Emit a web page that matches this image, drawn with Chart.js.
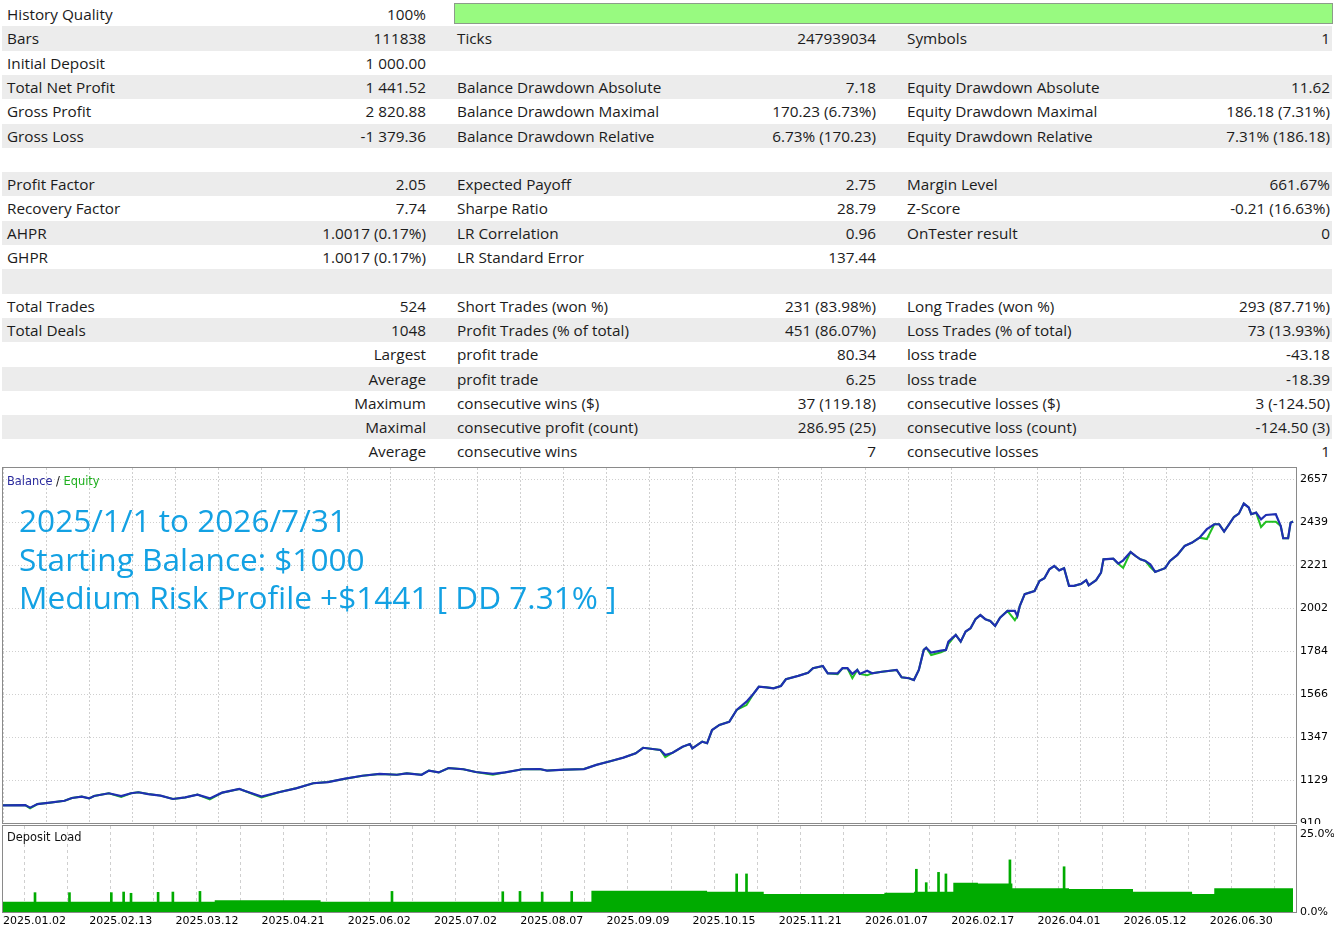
<!DOCTYPE html>
<html>
<head>
<meta charset="utf-8">
<title>Strategy Tester Report</title>
<script src="https://cdn.jsdelivr.net/npm/chart.js@4.4.1/dist/chart.umd.min.js"></script>
<style>
  body { margin: 0; width: 1334px; height: 934px; overflow: hidden; background: #fff; position: relative; }
  #report { position: absolute; left: 0; top: 0; width: 1334px; font-family: 'Open Sans', sans-serif; font-size: 15.3px; color: #1b1b1b; }
  .row { position: absolute; left: 2px; width: 1330px; height: 24.3px; line-height: 24.3px; }
  .row.alt { background: #ececec; }
  .row span { position: absolute; top: 0; white-space: nowrap; }
  .quality { position: absolute; left: 452px; top: 1px; width: 877px; height: 19px; background: #98fa80; border: 1px solid #8c9c8a; }
  canvas { position: absolute; left: 0; }
  #balanceCanvas { top: 467px; }
  #loadCanvas { top: 825px; }
  .legend { position: absolute; font-family: 'DejaVu Sans', sans-serif; font-size: 11.4px; color: #111; white-space: nowrap; }
  #title { position: absolute; left: 19px; top: 501px; font-family: 'Open Sans', sans-serif; font-size: 31.6px; line-height: 38.5px; color: #13a1e3; white-space: nowrap; }
</style>
</head>
<body>
<div id="report"></div>
<canvas id="balanceCanvas" width="1334" height="357"></canvas>
<canvas id="loadCanvas" width="1334" height="109"></canvas>
<div class="legend" style="left:7px;top:474px"><span style="color:#2b2b9e">Balance</span> / <span style="color:#1fb01f">Equity</span></div>
<div id="title">2025/1/1 to 2026/7/31<br>Starting Balance: $1000<br>Medium Risk Profile +$1441 [ DD 7.31% ]</div>
<div class="legend" style="left:7px;top:830px">Deposit Load</div>
<script>
// report table: label, value, label, value, label, value
const reportRows = [
  ['History Quality', '100%', '', '', '', ''],
  ['Bars', '111838', 'Ticks', '247939034', 'Symbols', '1'],
  ['Initial Deposit', '1 000.00', '', '', '', ''],
  ['Total Net Profit', '1 441.52', 'Balance Drawdown Absolute', '7.18', 'Equity Drawdown Absolute', '11.62'],
  ['Gross Profit', '2 820.88', 'Balance Drawdown Maximal', '170.23 (6.73%)', 'Equity Drawdown Maximal', '186.18 (7.31%)'],
  ['Gross Loss', '-1 379.36', 'Balance Drawdown Relative', '6.73% (170.23)', 'Equity Drawdown Relative', '7.31% (186.18)'],
  ['', '', '', '', '', ''],
  ['Profit Factor', '2.05', 'Expected Payoff', '2.75', 'Margin Level', '661.67%'],
  ['Recovery Factor', '7.74', 'Sharpe Ratio', '28.79', 'Z-Score', '-0.21 (16.63%)'],
  ['AHPR', '1.0017 (0.17%)', 'LR Correlation', '0.96', 'OnTester result', '0'],
  ['GHPR', '1.0017 (0.17%)', 'LR Standard Error', '137.44', '', ''],
  ['', '', '', '', '', ''],
  ['Total Trades', '524', 'Short Trades (won %)', '231 (83.98%)', 'Long Trades (won %)', '293 (87.71%)'],
  ['Total Deals', '1048', 'Profit Trades (% of total)', '451 (86.07%)', 'Loss Trades (% of total)', '73 (13.93%)'],
  ['', 'Largest', 'profit trade', '80.34', 'loss trade', '-43.18'],
  ['', 'Average', 'profit trade', '6.25', 'loss trade', '-18.39'],
  ['', 'Maximum', 'consecutive wins ($)', '37 (119.18)', 'consecutive losses ($)', '3 (-124.50)'],
  ['', 'Maximal', 'consecutive profit (count)', '286.95 (25)', 'consecutive loss (count)', '-124.50 (3)'],
  ['', 'Average', 'consecutive wins', '7', 'consecutive losses', '1']
]

// balance / equity, by trade number
const balanceTrade = [0, 9, 11, 14, 19, 25, 28, 32, 35, 37, 43, 48, 52, 55, 59, 64, 69, 74, 79, 84,
  89, 96, 98, 105, 112, 119, 126, 132, 139, 146, 153, 160, 164, 170, 173, 177, 181, 187, 192, 199,
  204, 211, 218, 221, 228, 236, 241, 247, 252, 257, 260, 267, 269, 272, 276, 279, 280, 284, 286, 288,
  291, 295, 298, 302, 305, 307, 310, 313, 316, 318, 323, 327, 329, 333, 335, 339, 341, 343, 345, 347,
  348, 351, 353, 357, 363, 365, 368, 370, 372, 374, 375, 377, 381, 383, 384, 387, 389, 391, 393, 395,
  397, 399, 401, 403, 405, 408, 411, 412, 413, 415, 419, 421, 423, 425, 427, 429, 431, 433, 435, 438,
  440, 441, 444, 446, 447, 451, 453, 455, 458, 460, 462, 464, 466, 468, 472, 474, 477, 480, 483, 486,
  489, 492, 494, 496, 498, 500, 502, 504, 506, 507, 509, 511, 513, 517, 519, 520, 522, 523, 524]
const balanceValue = [1000, 1001, 988, 1006, 1013, 1023, 1037, 1044, 1035, 1047, 1061, 1047, 1061, 1066, 1057, 1049, 1032, 1040, 1054, 1035,
  1064, 1083, 1074, 1044, 1066, 1086, 1112, 1118, 1135, 1150, 1159, 1155, 1162, 1155, 1176, 1167, 1189, 1183, 1169, 1159,
  1167, 1183, 1184, 1176, 1181, 1184, 1205, 1225, 1242, 1264, 1292, 1281, 1255, 1267, 1297, 1311, 1289, 1323, 1315, 1382,
  1408, 1424, 1484, 1526, 1569, 1602, 1599, 1594, 1606, 1640, 1657, 1673, 1696, 1707, 1670, 1670, 1696, 1696, 1667, 1687,
  1667, 1683, 1670, 1678, 1687, 1650, 1645, 1636, 1687, 1789, 1800, 1775, 1785, 1789, 1831, 1865, 1831, 1882, 1899, 1945,
  1966, 1945, 1936, 1911, 1953, 1987, 1987, 1961, 2012, 2072, 2088, 2139, 2153, 2198, 2215, 2193, 2204, 2114, 2114, 2125,
  2143, 2117, 2143, 2181, 2249, 2252, 2227, 2244, 2286, 2266, 2249, 2241, 2224, 2185, 2204, 2241, 2271, 2317, 2334, 2359,
  2402, 2427, 2427, 2390, 2427, 2464, 2481, 2532, 2512, 2478, 2486, 2452, 2474, 2478, 2418, 2356, 2356, 2435, 2441]
const equityValue = [1000, 1001, 984, 1006, 1013, 1023, 1037, 1044, 1035, 1047, 1061, 1042, 1061, 1066, 1057, 1049, 1032, 1040, 1054, 1030,
  1064, 1083, 1074, 1040, 1066, 1086, 1112, 1118, 1135, 1150, 1159, 1155, 1162, 1155, 1176, 1167, 1189, 1183, 1169, 1155,
  1167, 1183, 1184, 1176, 1181, 1184, 1205, 1225, 1242, 1264, 1292, 1281, 1244, 1267, 1297, 1311, 1289, 1323, 1315, 1382,
  1408, 1424, 1484, 1509, 1569, 1602, 1599, 1594, 1606, 1640, 1657, 1673, 1696, 1707, 1670, 1665, 1696, 1696, 1645, 1687,
  1667, 1660, 1670, 1678, 1687, 1650, 1645, 1636, 1687, 1789, 1800, 1763, 1777, 1789, 1820, 1865, 1831, 1882, 1899, 1945,
  1966, 1945, 1936, 1911, 1953, 1987, 1940, 1961, 2012, 2072, 2088, 2139, 2153, 2198, 2215, 2193, 2204, 2114, 2114, 2125,
  2143, 2117, 2143, 2181, 2249, 2252, 2227, 2205, 2286, 2266, 2249, 2241, 2210, 2185, 2204, 2241, 2271, 2317, 2334, 2359,
  2352, 2427, 2427, 2390, 2427, 2464, 2481, 2532, 2512, 2478, 2486, 2413, 2440, 2440, 2418, 2356, 2356, 2435, 2441]
const balanceTickLabels = ['910', '1129', '1347', '1566', '1784', '2002', '2221', '2439', '2657']

// deposit load (%), by trade number
const loadBaseTrade = [0, 86, 129, 239, 286, 309, 358, 370, 386, 396, 410, 433, 459, 483, 492, 524]
const loadBaseValue = [3.3, 3.8, 3.3, 6.8, 6.5, 5.8, 6.2, 6.5, 9.4, 9.1, 7.6, 7.4, 6.5, 5.8, 7.6, 7.6]
const loadSpikeTrade = [13, 27, 44, 49, 52, 63, 69, 80, 158, 203, 210, 219, 231, 298, 302, 371, 375, 380, 383, 409, 431]
const loadSpikeValue = [6.2, 6.2, 6.2, 6.4, 6.0, 6.3, 6.4, 6.6, 6.6, 6.5, 6.6, 6.4, 6.6, 12.2, 12.2, 13.7, 9.4, 12.7, 12.2, 16.7, 14.5]
const loadTickLabels = ['0.0%', '25.0%']

const dateLabels = ['2025.01.02', '2025.02.13', '2025.03.12', '2025.04.21', '2025.06.02', '2025.07.02', '2025.08.07',
  '2025.09.09', '2025.10.15', '2025.11.21', '2026.01.07', '2026.02.17', '2026.04.01', '2026.05.12', '2026.06.30']

const tradeMax = 525.2
const gridSteps = 30
const balanceMin = 910
const balanceStep = 218.35
const balanceMax = 2712.7
const loadMax = 27.56

// table
const report = document.getElementById('report')
reportRows.forEach((r, i) => {
  const row = document.createElement('div')
  row.className = 'row' + (i % 2 ? ' alt' : '')
  row.style.top = (2 + i * 24.3) + 'px'
  const cells = [
    ['left:5px', r[0]], ['right:906px', r[1]],
    ['left:455px', r[2]], ['right:456px', r[3]],
    ['left:905px', r[4]], ['right:2px', r[5]]
  ]
  cells.forEach(([pos, txt]) => {
    if (!txt) return
    const s = document.createElement('span')
    s.style.cssText = pos
    s.textContent = txt
    row.appendChild(s)
  })
  if (i === 0) {
    const q = document.createElement('div')
    q.className = 'quality'
    row.appendChild(q)
  }
  report.appendChild(row)
})

const axisFont = { family: 'DejaVu Sans', size: 11 }

const frame = {
  id: 'frame',
  afterDraw(chart) {
    const { ctx, chartArea: a } = chart
    ctx.save()
    ctx.strokeStyle = '#8a8a8a'
    ctx.lineWidth = 1
    ctx.strokeRect(a.left - 0.5, a.top - 0.5, a.width + 1, a.height + 1)
    ctx.restore()
  }
}

// no extra room for edge labels, the chart area is fixed by the layout padding
function noEdgePadding(s) {
  s.paddingTop = 0
  s.paddingBottom = 0
  s.paddingLeft = 0
  s.paddingRight = 0
}

function tradeGrid(scale) {
  scale.ticks = Array.from({ length: gridSteps + 1 }, (_, i) => ({ value: tradeMax * i / gridSteps }))
}

new Chart(document.getElementById('balanceCanvas'), {
  type: 'line',
  data: {
    datasets: [
      {
        label: 'Balance',
        data: balanceTrade.map((t, i) => ({ x: t, y: balanceValue[i] })),
        borderColor: '#1f2fb2',
        borderWidth: 2.2,
        pointRadius: 0,
        tension: 0
      },
      {
        label: 'Equity',
        data: balanceTrade.map((t, i) => ({ x: t, y: equityValue[i] })),
        borderColor: '#22c022',
        borderWidth: 2,
        pointRadius: 0,
        tension: 0
      }
    ]
  },
  options: {
    responsive: false,
    animation: false,
    devicePixelRatio: 1,
    layout: { padding: { left: 3, top: 1, bottom: 1, right: 0 } },
    plugins: { legend: { display: false }, tooltip: { enabled: false } },
    scales: {
      x: {
        type: 'linear',
        min: 0,
        max: tradeMax,
        afterBuildTicks: tradeGrid,
        afterFit: s => { s.height = 0; noEdgePadding(s) },
        ticks: { display: false },
        grid: { color: '#cfcfcf', drawTicks: false },
        border: { display: false, dash: [2, 2] }
      },
      y: {
        position: 'right',
        min: balanceMin,
        max: balanceMax,
        afterBuildTicks: s => {
          s.ticks = balanceTickLabels.map((_, i) => ({ value: balanceMin + i * balanceStep }))
        },
        afterFit: s => { s.width = 38; noEdgePadding(s) },
        ticks: {
          font: axisFont,
          color: '#000',
          padding: 4,
          callback: (v, i) => balanceTickLabels[i]
        },
        grid: { color: '#cfcfcf', drawTicks: false },
        border: { display: false, dash: [1, 2] }
      }
    }
  },
  plugins: [frame]
})

new Chart(document.getElementById('loadCanvas'), {
  type: 'bar',
  data: {
    datasets: [
      {
        type: 'line',
        label: 'Deposit Load',
        data: loadBaseTrade.map((t, i) => ({ x: t, y: loadBaseValue[i] })),
        stepped: 'before',
        fill: 'origin',
        backgroundColor: '#00ab00',
        borderColor: '#00ab00',
        borderWidth: 0,
        pointRadius: 0
      },
      {
        type: 'bar',
        label: 'Load peaks',
        data: loadSpikeTrade.map((t, i) => ({ x: t, y: loadSpikeValue[i] })),
        backgroundColor: '#00ab00',
        barThickness: 2
      }
    ]
  },
  options: {
    responsive: false,
    animation: false,
    devicePixelRatio: 1,
    layout: { padding: { left: 3, top: 1, bottom: 0, right: 0 } },
    plugins: { legend: { display: false }, tooltip: { enabled: false } },
    scales: {
      x: {
        type: 'linear',
        min: 0,
        max: tradeMax,
        offset: false,
        afterBuildTicks: tradeGrid,
        afterFit: s => { s.height = 22; noEdgePadding(s) },
        ticks: {
          autoSkip: false,
          maxRotation: 0,
          align: 'start',
          padding: 3,
          font: axisFont,
          color: '#000',
          callback: (v, i) => (i % 2 === 0 ? (dateLabels[i / 2] || '') : '')
        },
        grid: { color: '#cfcfcf', drawTicks: false },
        border: { display: false, dash: [3, 3] }
      },
      y: {
        position: 'right',
        min: 0,
        max: loadMax,
        afterBuildTicks: s => { s.ticks = [{ value: 0 }, { value: 25 }] },
        afterFit: s => { s.width = 38; noEdgePadding(s) },
        ticks: {
          font: axisFont,
          color: '#000',
          padding: 4,
          callback: (v, i) => loadTickLabels[i]
        },
        grid: { display: false, drawTicks: false },
        border: { display: false }
      }
    }
  },
  plugins: [frame]
})
</script>
</body>
</html>
